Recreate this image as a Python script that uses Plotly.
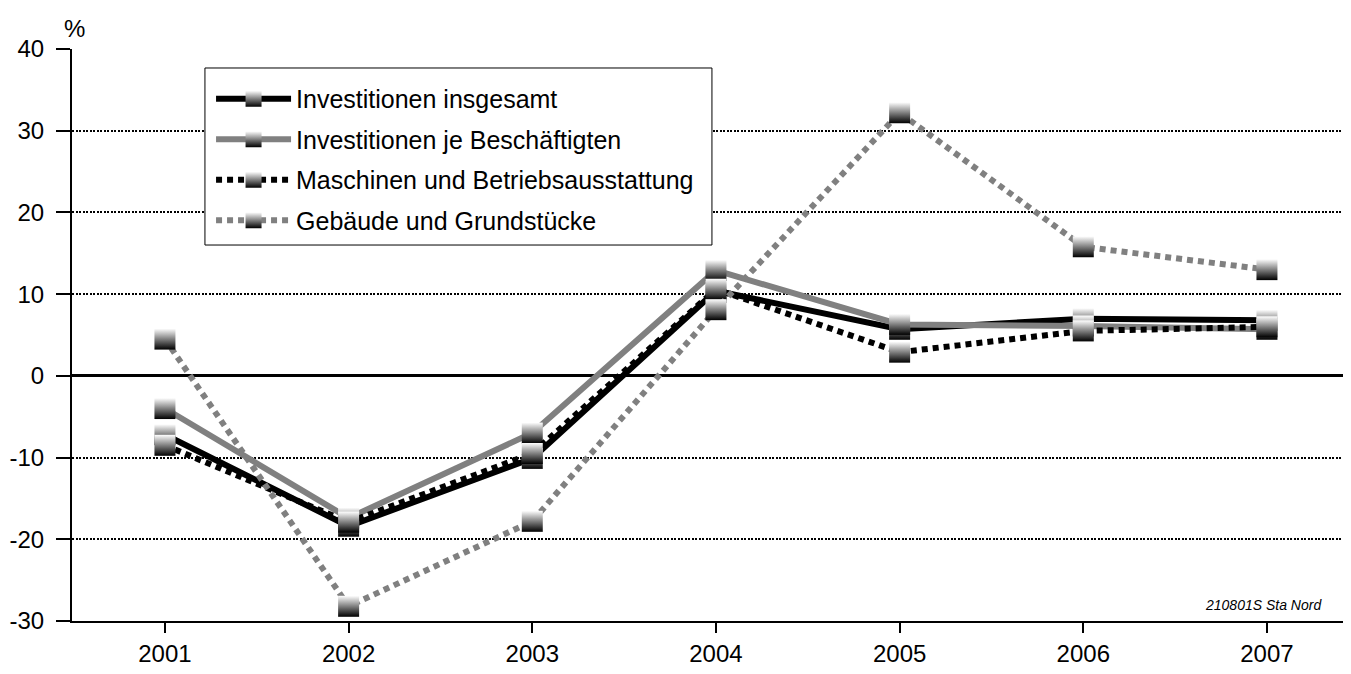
import plotly.graph_objects as go

years = [2001, 2002, 2003, 2004, 2005, 2006, 2007]
insgesamt = [-7.2, -18.4, -10.1, 10.4, 5.7, 7.0, 6.8]
je_beschaeftigten = [-4.0, -17.4, -7.0, 12.9, 6.3, 6.1, 5.7]
maschinen = [-8.5, -17.9, -9.5, 10.6, 2.9, 5.5, 6.0]
gebaeude = [4.5, -28.2, -17.8, 8.1, 32.2, 15.8, 13.0]

names = ["Investitionen insgesamt", "Investitionen je Beschäftigten",
         "Maschinen und Betriebsausstattung", "Gebäude und Grundstücke"]
series = [insgesamt, je_beschaeftigten, maschinen, gebaeude]
colors = ["#000000", "#808080", "#000000", "#808080"]
dashes = ["solid", "solid", "6px,5px", "6px,5px"]

y_ticks = [-30, -20, -10, 0, 10, 20, 30, 40]
y_ticktext = ["-30", "-20", "-10", "0", "10", "20", "30", "40"]

fig = go.Figure()
for i, (name, vals, col, dash) in enumerate(zip(names, series, colors, dashes)):
    fig.add_trace(go.Scatter(
        x=years, y=vals, name=name, mode="lines+markers",
        legendgroup=f"g{i}", legendrank=i + 1,
        line=dict(color=col, width=6, dash=dash),
        marker=dict(symbol="square", size=21, color="#ffffff",
                    gradient=dict(type="vertical", color="#000000"),
                    line=dict(width=0)),
    ))

fig.update_layout(
    width=1343, height=666,
    margin=dict(l=64, r=8, t=41, b=53),
    paper_bgcolor="white", plot_bgcolor="white",
    font=dict(family="Liberation Sans, Arial", size=24, color="black"),
    showlegend=True,
    legend=dict(x=0.1094, y=0.9528, xanchor="left", yanchor="top",
                bgcolor="rgba(0,0,0,0)", borderwidth=0,
                font=dict(size=25), itemwidth=75, tracegroupgap=5,
                traceorder="grouped"),
    xaxis=dict(range=[2000.494, 2007.414], tickvals=years,
               ticktext=[str(y) for y in years], automargin=False,
               showgrid=False, zeroline=False,
               showline=True, linecolor="black", linewidth=1.5,
               ticks="outside", ticklen=10, tickwidth=2, tickcolor="black"),
    yaxis=dict(range=[-30, 40], tickvals=y_ticks, ticktext=y_ticktext,
               automargin=False,
               showgrid=True, gridcolor="black", gridwidth=1.5,
               griddash="2px,1.5px",
               zeroline=True, zerolinecolor="black", zerolinewidth=3,
               showline=True, linecolor="black", linewidth=2,
               ticks="outside", ticklen=14, tickwidth=2, tickcolor="black",
               ticklabelstandoff=7),
    shapes=[
        dict(type="rect", xref="paper", yref="paper",
             x0=0.1046, x1=0.5035, y0=0.6573, y1=0.9668,
             line=dict(color="black", width=1), fillcolor="white",
             layer="above"),
    ],
    annotations=[
        dict(text="%", xref="paper", yref="paper", x=0.002, y=1.035,
             xanchor="center", yanchor="middle", showarrow=False,
             font=dict(size=24)),
        dict(text="<i>210801S Sta Nord</i>", xref="paper", yref="paper",
             x=0.985, y=0.028, xanchor="right", yanchor="middle",
             showarrow=False, font=dict(size=14)),
    ],
)

fig.write_html("out.html")
